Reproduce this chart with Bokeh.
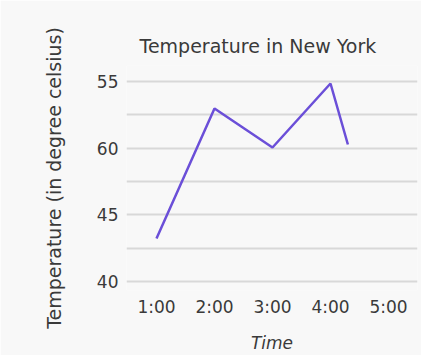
from bokeh.plotting import figure
from bokeh.models import FixedTicker, Range1d
from bokeh.embed import file_html
from bokeh.resources import INLINE

# Data (y in grid steps; the chart's axis labels are as printed)
times = [1, 2, 3, 4, 4.3]
temps = [1.29, 5.19, 4.02, 5.94, 4.11]
x_ticks = [1, 2, 3, 4, 5]
x_labels = ["1:00", "2:00", "3:00", "4:00", "5:00"]
y_ticks = [0, 1, 2, 3, 4, 5, 6]
y_labels = ["40", "", "45", "", "60", "", "55"]

FONT = "DejaVu Sans"
TXT = "#3a3a3a"
BG = "#f8f8f8"

p = figure(width=421, height=355, output_backend="svg", toolbar_location=None,
           x_range=Range1d(0.483, 5.5), y_range=Range1d(-0.27, 6.48),
           background_fill_color=BG, border_fill_color=BG)
p.min_border_left = 126
p.min_border_right = 4
p.min_border_top = 65
p.min_border_bottom = 65
p.outline_line_color = None

p.title.text = "Temperature in New York"
p.title.text_font = FONT
p.title.text_font_size = "19px"
p.title.text_font_style = "normal"
p.title.text_color = TXT
p.title.align = "left"
p.title.offset = 13
p.title.standoff = 18

p.line(times, temps, line_color="#6b4fd8", line_width=2.5)

p.xaxis.ticker = FixedTicker(ticks=x_ticks)
p.xaxis.major_label_overrides = {t: l for t, l in zip(x_ticks, x_labels)}
p.yaxis.ticker = FixedTicker(ticks=y_ticks)
p.yaxis.major_label_overrides = {t: l for t, l in zip(y_ticks, y_labels)}

for ax in (p.xaxis, p.yaxis):
    ax.axis_line_color = None
    ax.major_tick_line_color = None
    ax.minor_tick_line_color = None
    ax.major_tick_out = 0
    ax.major_tick_in = 0
    ax.major_label_text_font = FONT
    ax.major_label_text_font_size = "17px"
    ax.major_label_text_color = TXT
    ax.axis_label_text_font = FONT
    ax.axis_label_text_color = TXT

p.xaxis.major_label_standoff = 6
p.yaxis.major_label_standoff = 8

p.xaxis.axis_label = "Time"
p.xaxis.axis_label_text_font_style = "italic"
p.xaxis.axis_label_text_font_size = "17px"
p.xaxis.axis_label_standoff = 13

p.yaxis.axis_label = "Temperature (in degree celsius)"
p.yaxis.axis_label_text_font_style = "normal"
p.yaxis.axis_label_text_font_size = "19px"
p.yaxis.axis_label_standoff = 29

p.xgrid.grid_line_color = None
p.ygrid.grid_line_color = "#d8d8d8"
p.ygrid.grid_line_width = 2

open("out.html", "w").write(file_html(p, INLINE))
